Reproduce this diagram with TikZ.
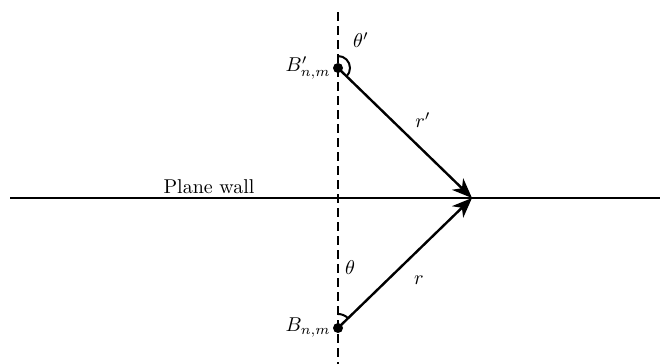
\documentclass[tikz,border=0pt]{standalone}
\usetikzlibrary{arrows.meta,calc}
\begin{document}
\begin{tikzpicture}[x=0.5pt,y=-0.5pt,
  ln/.style={line width=1.2pt},
  ray/.style={line width=1.2pt,-{Stealth[length=10pt,width=8pt,inset=3pt]}},
  dsh/.style={line width=1.2pt,dash pattern=on 4.5pt off 2.5pt},
  pt/.style={circle,fill=black,inner sep=0pt,minimum size=5pt},
  lbl/.style={inner sep=1pt}]
\useasboundingbox (0,0) rectangle (660,364);
\coordinate (wl) at (10,198);
\coordinate (wr) at (660,198);
\coordinate (dt) at (338,12);
\coordinate (db) at (338,364);
\coordinate (P) at (472,198);
\node[pt] (Bp) at (338,68) {};
\node[pt] (B) at (338,328) {};
\draw[ln] (wl) -- (wr);
\draw[dsh] (dt) -- (db);
\draw[ray] (Bp.center) -- (P);
\draw[ray] (B.center) -- (P);
\draw[line width=1pt] ($(Bp.center)+(0,-12)$) arc[start angle=90,end angle=-44,radius=6pt];
\draw[line width=1pt] ($(B.center)+(0,-14)$) arc[start angle=90,end angle=44,radius=7pt];
\node[lbl,anchor=east] (lBp) at (333,68) {$B'_{n,m}$};
\node[lbl,anchor=east] (lB) at (333,328) {$B_{n,m}$};
\node[lbl] (tp) at (361,40) {$\theta'$};
\node[lbl] (t) at (350,268) {$\theta$};
\node[lbl] (rp) at (423,120) {$r'$};
\node[lbl] (r) at (419,280) {$r$};
\node[lbl] (pw) at (209,187) {Plane wall};
\end{tikzpicture}
\end{document}
